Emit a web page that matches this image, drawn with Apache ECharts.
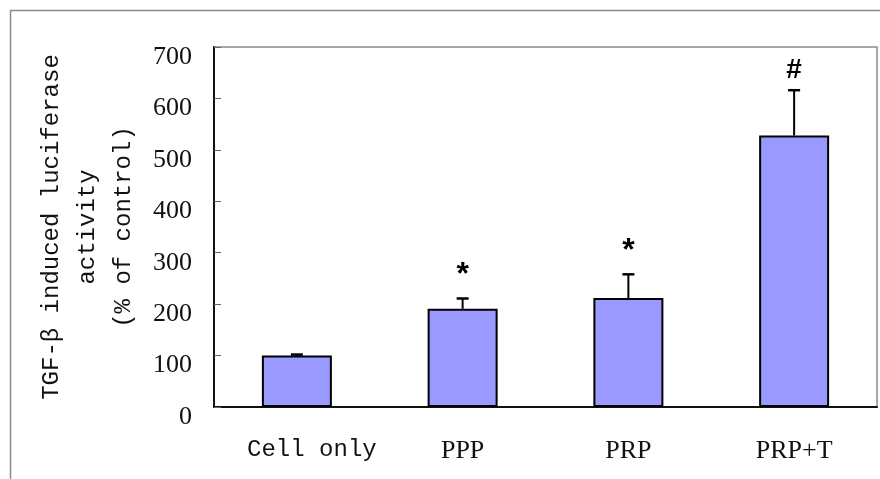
<!DOCTYPE html>
<html>
<head>
<meta charset="utf-8">
<title>TGF-beta luciferase</title>
<script src="https://cdn.jsdelivr.net/npm/echarts@6/dist/echarts.min.js"></script>
<style>
  html, body { margin: 0; padding: 0; background: #fff; }
  #main { width: 880px; height: 479px; }
</style>
</head>
<body>
<div id="main"></div>
<script>
// values
var categories = ['Cell only', 'PPP', 'PRP', 'PRP+T'];
var means = [100, 191, 212, 528];
var errTop = [102, 211, 258, 616];
var marks = ['', '*', '*', '#'];
var yTicks = [0, 100, 200, 300, 400, 500, 600, 700];

var chart = echarts.init(document.getElementById('main'));

var errData = categories.map(function (c, i) { return [i, means[i], errTop[i]]; });

chart.setOption({
  animation: false,
  graphic: [{
    type: 'rect', left: 8, top: 8,
    shape: { width: 900, height: 520 },
    style: { fill: 'none', stroke: '#8a8a8a', lineWidth: 1.5 },
    silent: true
  }],
  grid: {
    left: 214, top: 47, right: 3, bottom: 72,
    show: true, borderColor: '#8a8a8a', borderWidth: 1.5
  },
  xAxis: {
    type: 'category',
    data: categories,
    axisLine: { lineStyle: { color: '#111', width: 2 } },
    axisTick: { inside: true, length: 9, lineStyle: { color: '#777', width: 1 } },
    axisLabel: {
      interval: 0,
      margin: 31,
      color: '#111',
      fontFamily: 'Liberation Serif',
      fontSize: 26,
      formatter: function (v, i) { return i === 0 ? '{m|' + v + '}' : v; },
      rich: {
        m: { fontFamily: 'Liberation Mono', fontSize: 24, padding: [0, 0, 0, 30], color: '#111' }
      }
    }
  },
  yAxis: {
    type: 'value',
    min: yTicks[0], max: yTicks[yTicks.length - 1], interval: 100,
    name: 'TGF-β induced luciferase\nactivity\n(% of control)',
    nameLocation: 'middle',
    nameGap: 70,
    nameRotate: 90,
    nameTextStyle: { fontFamily: 'Liberation Mono', fontSize: 24, lineHeight: 36, color: '#111', align: 'center' },
    splitLine: { show: false },
    axisLine: { show: true, lineStyle: { color: '#111', width: 2 } },
    axisTick: { show: true, inside: true, length: 7, lineStyle: { color: '#666', width: 1 } },
    axisLabel: {
      margin: 22,
      color: '#111',
      fontFamily: 'Liberation Serif',
      fontSize: 26,
      verticalAlign: 'top',
      lineHeight: 20
    }
  },
  series: [{
    type: 'bar',
    data: means,
    barWidth: 70,
    itemStyle: { color: '#9999ff', borderColor: '#000', borderWidth: 2 }
  }, {
    type: 'custom',
    z: 4,
    data: errData,
    renderItem: function (params, api) {
      var i = api.value(0);
      var base = api.coord([i, api.value(1)]);
      var top = api.coord([i, api.value(2)]);
      var x = top[0];
      var kids = [
        { type: 'line', shape: { x1: x, y1: base[1], x2: x, y2: top[1] }, style: { stroke: '#000', lineWidth: 2 } },
        { type: 'line', shape: { x1: x - 6, y1: top[1], x2: x + 6, y2: top[1] }, style: { stroke: '#000', lineWidth: 2.5 } }
      ];
      var m = marks[params.dataIndex];
      if (m) {
        var star = m === '*';
        kids.push({
          type: 'text',
          x: x, y: top[1] - (star ? 7 : 6),
          style: {
            text: m,
            align: 'center', verticalAlign: 'bottom',
            fontFamily: 'Liberation Sans', fontWeight: 'bold',
            fontSize: star ? 32 : 28,
            fill: '#000'
          }
        });
      }
      return { type: 'group', children: kids };
    }
  }]
});
</script>
</body>
</html>
